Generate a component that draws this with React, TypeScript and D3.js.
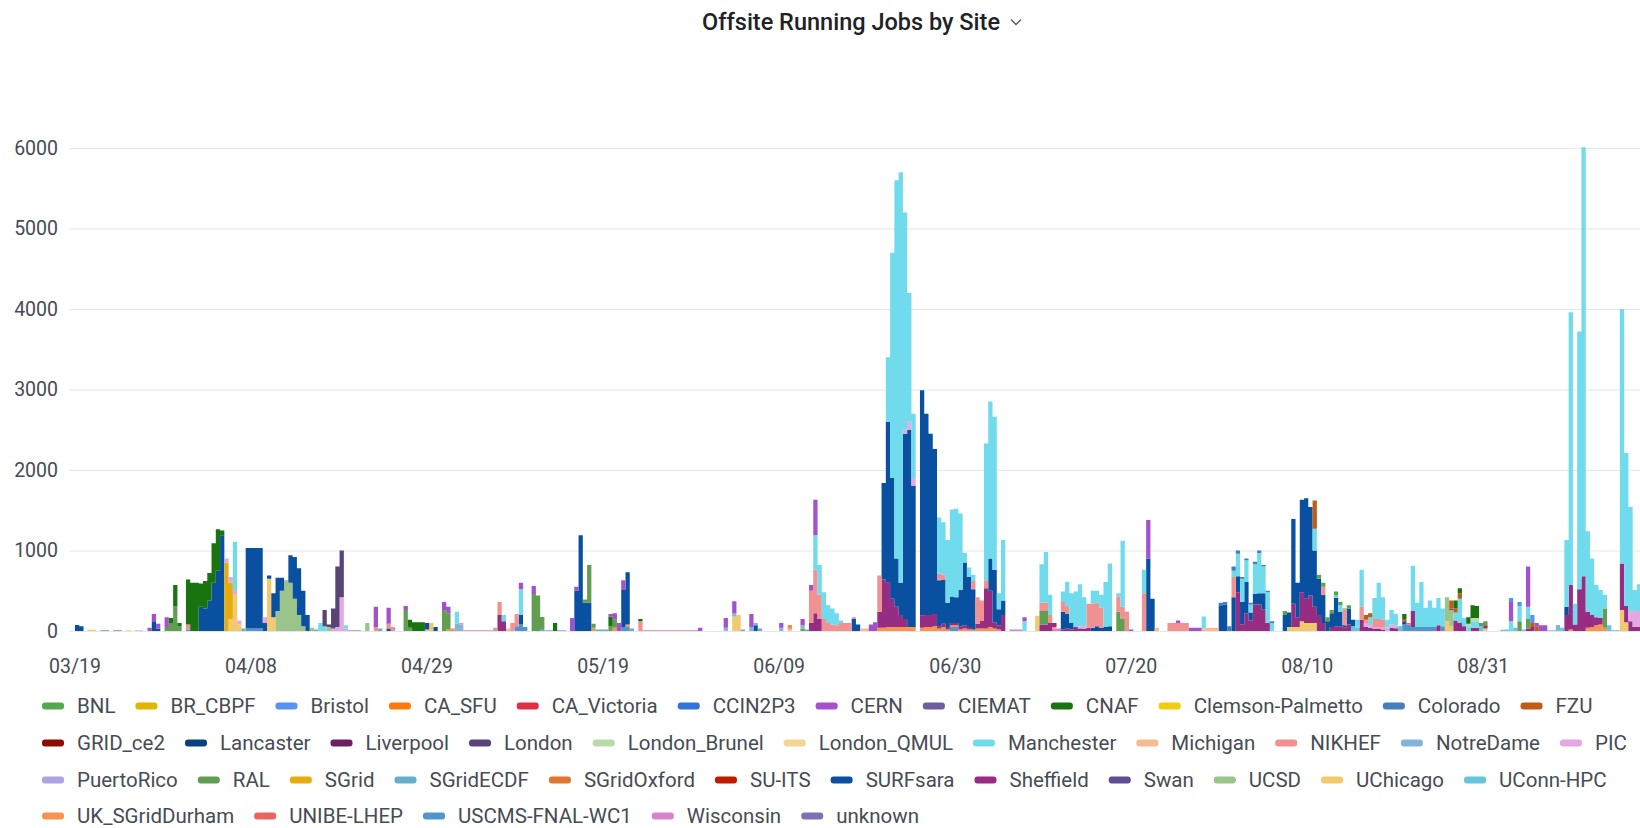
import React, { useEffect, useRef } from 'react';
import * as d3 from 'd3';

type Runs = [number, number[]][];

const title = 'Offsite Running Jobs by Site';

const sites = [
  'BNL', 'BR_CBPF', 'Bristol', 'CA_SFU', 'CA_Victoria', 'CCIN2P3', 'CERN', 'CIEMAT', 'CNAF',
  'Clemson-Palmetto', 'Colorado', 'FZU', 'GRID_ce2', 'Lancaster', 'Liverpool', 'London',
  'London_Brunel', 'London_QMUL', 'Manchester', 'Michigan', 'NIKHEF', 'NotreDame', 'PIC',
  'PuertoRico', 'RAL', 'SGrid', 'SGridECDF', 'SGridOxford', 'SU-ITS', 'SURFsara', 'Sheffield',
  'Swan', 'UCSD', 'UChicago', 'UConn-HPC', 'UK_SGridDurham', 'UNIBE-LHEP', 'USCMS-FNAL-WC1',
  'Wisconsin', 'unknown'
];

const siteColors = [
  '#56A64B', '#E0B400', '#5794F2', '#FF780A', '#E02F44', '#3274D9', '#A352CC', '#705DA0', '#19730E',
  '#F2CC0C', '#447EBC', '#C15C17', '#890F02', '#0A437C', '#6D1F62', '#584477',
  '#B7DBAB', '#F4D598', '#70DBED', '#F9BA8F', '#F29191', '#82B5D8', '#E5A8E2',
  '#AEA2E0', '#629E51', '#E5AC0E', '#64B0C8', '#E0752D', '#BF1B00', '#0A50A1', '#962D82',
  '#614D93', '#9AC48A', '#F2C96D', '#65C5DB', '#F9934E', '#EA6460', '#5195CE',
  '#D683CE', '#806EB7'
];

// running jobs per 12-hour bin, bin 0 = 03/19 00:00; [first bin, values...]
const manchester: Runs = [
  [37, [600]], [57, [100, 60]], [63, [40]], [89, [150]], [100, [80]], [104, [320]],
  [173, [430, 370, 330, 220, 200, 150, 30]],
  [190, [800, 2800, 4700, 5100, 2700, 1600, 800]],
  [202, [700, 650, 780, 1080, 1100, 950, 120, 120, 80]],
  [213, [1700, 1950, 1900, 200, 750]],
  [222, [120]], [226, [480, 630, 250]],
  [231, [130, 300, 370, 440, 520, 360, 0, 160, 150, 160, 560, 780]],
  [244, [40, 820]], [250, [290]], [264, [150]],
  [271, [80, 280, 290, 270, 100, 370, 500, 330, 380, 100]],
  [290, [270]], [295, [30, 80]],
  [300, [100, 460, 0, 100, 260, 450, 280, 100, 180, 150]],
  [313, [560, 300, 560, 240, 330, 240, 340, 220]],
  [323, [100, 300, 100, 60, 80, 80]],
  [336, [120, 0, 190, 0, 150]],
  [349, [830, 3390, 260, 3200, 5330, 1000, 700, 400, 350, 170]],
  [362, [3160, 1900, 1300, 260, 330]]
];

const surfsara: Runs = [
  [0, [75, 60]], [18, [120, 30]],
  [29, [300, 280, 380, 600, 750, 1190]],
  [40, [1000, 1000, 1000, 1000, 100, 40, 300, 410, 160, 0, 340, 520, 580, 440, 200]],
  [73, [30]], [82, [80, 0, 50]], [104, [120]],
  [117, [500, 1190, 350, 350]], [128, [460, 650]], [159, [70]], [182, [150, 80]],
  [189, [1200, 2000, 1500, 600, 400, 2300, 2450, 1750, 0, 2800, 2500, 2250, 2050, 570, 550, 300, 330, 320, 450, 780, 620, 500]],
  [214, [400, 650, 200, 180]],
  [231, [220, 180, 80]], [238, [40, 60, 40, 50, 60]],
  [251, [900, 400]], [268, [320, 330]],
  [271, [420, 200, 280, 390, 100, 130, 140, 200]],
  [283, [200, 180, 1050, 430, 1150, 1250, 1100, 700, 450, 350, 120, 170, 350, 180, 30, 200, 80]],
  [311, [40]], [349, [100]]
];

const nikhef: Runs = [
  [26, [60]], [70, [50]], [73, [60, 50]], [90, [20]], [98, [40, 160]], [102, [100, 150]],
  [132, [120]], [167, [30]],
  [172, [400, 540, 300, 150, 100, 80, 70, 100, 100, 100, 20]],
  [188, [450]], [202, [80, 60]], [210, [100, 330, 250, 100]],
  [226, [100, 100, 100]], [231, [120, 100]], [237, [300, 300, 290, 250]],
  [244, [190, 150, 240]], [250, [470]], [256, [100, 100, 100, 100, 100]],
  [271, [250]], [292, [100]], [297, [200]], [301, [160, 50, 0, 100, 100, 100]]
];

const sheffield: Runs = [
  [99, [200, 120]], [172, [100, 220, 150]],
  [188, [200, 600, 550, 350, 250, 150, 100]],
  [198, [150, 150, 150, 150, 30, 40, 30, 30, 30, 40, 40, 30]],
  [211, [60, 100, 500, 450, 80, 50, 200]],
  [226, [80, 80, 100, 50]], [231, [20, 30, 20, 50, 30, 30, 40]],
  [272, [480, 80, 220, 130, 330, 330, 270, 100]],
  [285, [290, 120, 360, 300, 340, 200, 200, 100, 0, 50, 60, 60, 40, 80]],
  [301, [140, 50, 40, 30, 30, 20, 0, 40, 35]],
  [313, [200]], [319, [70]], [322, [20, 130, 100, 60, 0, 40, 40, 0, 40]],
  [340, [30, 50]],
  [349, [200, 550, 80, 520, 680, 200, 150, 100, 80]],
  [362, [580, 200, 120, 50, 50]]
];

const cern: Runs = [
  [17, [40, 90, 60]], [21, [120]], [70, [250]], [73, [200]], [77, [50]], [86, [100, 80]],
  [104, [80]], [107, [100]], [116, [160, 50]], [125, [30, 80, 100, 120]], [146, [40]],
  [152, [120, 0, 150]], [158, [160]], [165, [60]], [170, [80]], [172, [70, 440]],
  [186, [80, 110]], [222, [50]], [247, [20]], [251, [480]], [258, [30]], [261, [40, 40, 40]],
  [336, [240]], [340, [500, 0, 40, 70, 70]]
];

const cnaf: Runs = [
  [22, [60, 260, 40]], [26, [560, 600, 600, 290, 340, 340, 490, 515, 60]],
  [78, [100, 110, 110, 110]], [112, [100]], [125, [120]], [132, [30]], [311, [60]],
  [323, [100, 60, 0, 80, 160, 150]]
];

const ral: Runs = [
  [21, [50, 100, 310, 60]], [77, [260, 40]], [86, [260, 200]], [107, [460, 440, 150]],
  [119, [40, 470, 50]], [125, [60, 100]], [170, [30]], [226, [170, 170]], [244, [240, 150]],
  [329, [40, 50]], [338, [120, 0, 120]], [358, [240]]
];

const ucsd: Runs = [
  [47, [250, 500, 630, 600, 400, 200, 60]], [55, [40]], [59, [50]], [68, [100]], [321, [300, 200]]
];

const sgrid: Runs = [[35, [850, 450]]];

const uchicago: Runs = [
  [3, [15, 15]], [12, [10]], [36, [150, 450, 80]], [45, [650, 170]], [82, [20, 100]],
  [154, [180, 200]], [167, [20]], [225, [190]], [284, [50, 50, 50, 120, 100, 100, 100]],
  [321, [120, 60]], [330, [30]], [362, [260, 110]]
];

const london: Runs = [[58, [200, 30, 250, 750, 580]]];

const pic: Runs = [
  [14, [10, 10]], [35, [50, 70, 60, 50]], [44, [70]], [60, [30, 50, 420, 30]],
  [194, [50, 100, 100]], [235, [30, 30]], [302, [40, 30, 20, 20, 20, 40, 40, 30]],
  [364, [120, 200, 200]]
];

const fzu: Runs = [[290, [350]], [302, [60, 50]], [311, [30]], [322, [100, 50, 70]], [341, [50, 60]]];

const notreDame: Runs = [
  [6, [12, 12]], [89, [90, 80]], [152, [40, 0, 40]], [158, [50, 30]],
  [165, [40]], [170, [40]], [347, [75]]
];

const ukDurham: Runs = [
  [87, [20, 30]], [121, [40]], [126, [40]], [129, [30]],
  [188, [40, 40, 50, 50, 50, 50, 50, 50, 50]],
  [198, [40, 50, 50, 60, 30, 50, 20, 20, 20, 20, 30, 20, 20, 30, 30, 30, 50, 30, 20]],
  [229, [20]], [350, [20]], [354, [40, 50, 70, 80, 40]]
];

const uscms: Runs = [
  [9, [10, 10]], [26, [20]], [40, [30, 30, 30, 30]], [103, [60, 80, 50]], [128, [50, 50]],
  [205, [50, 50]], [311, [80, 80, 50, 50, 50, 50, 50, 50, 0, 60]]
];

const wisconsin: Runs = [
  [91, [10, 10, 10, 10, 10, 10, 10]],
  [133, [10, 10, 10, 10, 10, 10, 10, 10, 10, 10, 10, 10, 10]],
  [219, [20, 20, 20]], [229, [30, 30]]
];

const michigan: Runs = [[101, [30]], [184, [30, 30]], [253, [40]], [264, [30, 40, 40, 40]]];

const sgridEcdf: Runs = [
  [39, [30]], [56, [20]], [64, [10, 10, 10]], [71, [30]], [109, [25, 10, 10]], [113, [10, 10]],
  [122, [20, 20, 20]], [130, [30]], [156, [20]], [160, [30]], [171, [20]]
];

const uconn: Runs = [
  [299, [60, 40]], [310, [60]], [329, [60]], [334, [15, 20, 0, 40, 0, 20]], [345, [10, 10]],
  [348, [40]], [359, [70, 10, 10]]
];

const bnl: Runs = [[283, [50]], [291, [50, 50, 50, 40, 50, 40, 10, 40]]];
const colorado: Runs = [[268, [30, 30, 60, 50, 40, 20, 20, 20, 30, 30, 20, 20, 20]]];
const londonBrunel: Runs = [[326, [30, 40, 40]]];
const sgridOxford: Runs = [[312, [20]]];
const caSfu: Runs = [[167, [20]]];
const bristol: Runs = [[336, [50, 0, 50, 0, 0, 100]]];

const siteRuns: Record<string, Runs> = {
  BNL: bnl, Bristol: bristol, CA_SFU: caSfu, CERN: cern, CNAF: cnaf, Colorado: colorado, FZU: fzu,
  London: london, London_Brunel: londonBrunel, Manchester: manchester, Michigan: michigan,
  NIKHEF: nikhef, NotreDame: notreDame, PIC: pic, RAL: ral, SGrid: sgrid, SGridECDF: sgridEcdf,
  SGridOxford: sgridOxford, SURFsara: surfsara, Sheffield: sheffield, UCSD: ucsd,
  UChicago: uchicago, 'UConn-HPC': uconn, UK_SGridDurham: ukDurham, 'USCMS-FNAL-WC1': uscms,
  Wisconsin: wisconsin
};

const yTicks = [0, 1000, 2000, 3000, 4000, 5000, 6000];
const xTickTimes = [
  '2021-03-19T00:00', '2021-04-08T15:00', '2021-04-29T06:00', '2021-05-19T21:00', '2021-06-09T12:00',
  '2021-06-30T03:00', '2021-07-20T18:00', '2021-08-10T09:00', '2021-08-31T00:00'
];
const xTickLabels = ['03/19', '04/08', '04/29', '05/19', '06/09', '06/30', '07/20', '08/10', '08/31'];

const W = 1640;
const H = 828;
const FONT = 'Roboto, "Noto Sans", sans-serif';
const N_BINS = 368;
const HOUR = 3600 * 1000;
const DAY = 24 * HOUR;
const T0 = Date.UTC(2021, 2, 19);

const App: React.FC = () => {
  const svgRef = useRef<SVGSVGElement>(null);

  useEffect(() => {
    if (!svgRef.current) return;
    const svg = d3.select(svgRef.current);
    svg.selectAll('*').remove();

    svg.append('rect').attr('width', W).attr('height', H).attr('fill', 'white');

    const margin = { top: 148, left: 69, bottom: 631 };

    // build table
    const rows: any[] = [];
    for (let b = 0; b <= N_BINS; b++) {
      rows.push({ t: new Date(T0 + b * 12 * HOUR) });
    }
    sites.forEach(s => {
      rows.forEach(r => { r[s] = 0; });
      (siteRuns[s] || []).forEach(([start, vals]) => {
        vals.forEach((v, i) => {
          if (start + i < N_BINS) rows[start + i][s] = v;
        });
      });
    });

    const xScale = d3.scaleUtc()
      .domain([new Date(T0 - 0.7 * DAY), new Date(T0 + 183.36 * DAY)])
      .range([margin.left, W]);

    const yScale = d3.scaleLinear()
      .domain([0, 6000])
      .range([margin.bottom, margin.top]);

    // title
    svg.append('text')
      .attr('x', 851)
      .attr('y', 22)
      .attr('dy', '0.35em')
      .attr('text-anchor', 'middle')
      .style('font-family', FONT)
      .style('font-size', '23.5px')
      .style('font-weight', 500)
      .attr('fill', '#202226')
      .text(title);
    svg.append('path')
      .attr('d', 'M1011,19.5 L1016,24.5 L1021,19.5')
      .attr('fill', 'none')
      .attr('stroke', '#5a5d66')
      .attr('stroke-width', 1.5);

    // grid lines
    svg.append('g')
      .selectAll('line')
      .data(yTicks)
      .join('line')
      .attr('x1', margin.left)
      .attr('x2', W)
      .attr('y1', d => yScale(d) + 0.5)
      .attr('y2', d => yScale(d) + 0.5)
      .attr('stroke', '#e6e6e6')
      .attr('stroke-width', 1);

    // y labels
    svg.append('g')
      .selectAll('text')
      .data(yTicks)
      .join('text')
      .attr('x', 58)
      .attr('y', d => yScale(d))
      .attr('dy', '0.35em')
      .attr('text-anchor', 'end')
      .style('font-family', FONT)
      .style('font-size', '19.5px')
      .attr('fill', '#464c54')
      .text(d => String(d));

    // x labels
    svg.append('g')
      .selectAll('text')
      .data(xTickTimes)
      .join('text')
      .attr('x', d => xScale(new Date(d + 'Z')))
      .attr('y', 666)
      .attr('dy', '0.35em')
      .attr('text-anchor', 'middle')
      .style('font-family', FONT)
      .style('font-size', '19.5px')
      .attr('fill', '#464c54')
      .text((d, i) => xTickLabels[i]);

    // stacked areas, first legend entry on top
    const keys = sites.slice().reverse();
    const stacked = d3.stack<any>().keys(keys)(rows);

    svg.append('clipPath')
      .attr('id', 'plot-clip')
      .append('rect')
      .attr('x', margin.left)
      .attr('y', 0)
      .attr('width', W - margin.left)
      .attr('height', margin.bottom + 1);

    const area = d3.area<any>()
      .x(d => xScale(d.data.t))
      .y0(d => yScale(d[0]))
      .y1(d => yScale(d[1]))
      .curve(d3.curveStepAfter);

    svg.append('g')
      .attr('clip-path', 'url(#plot-clip)')
      .selectAll('path')
      .data(stacked)
      .join('path')
      .attr('fill', d => siteColors[sites.indexOf(d.key)])
      .attr('d', d => area(d as any) || '');

    // legend
    const legend = svg.append('g');
    const rowY = [706, 743, 780, 816];
    let lx = 42;
    let row = 0;
    sites.forEach((s, i) => {
      const item = legend.append('g');
      const txt = item.append('text')
        .attr('dy', '0.35em')
        .style('font-family', FONT)
        .style('font-size', '20.5px')
        .attr('fill', '#464c54')
        .text(s);
      const tw = (txt.node() as SVGTextElement).getComputedTextLength();
      if (lx + 35 + tw > W + 10) {
        row += 1;
        lx = 42;
      }
      const cy = rowY[row];
      item.append('rect')
        .attr('x', lx)
        .attr('y', cy - 3.5)
        .attr('width', 22)
        .attr('height', 7)
        .attr('rx', 3)
        .attr('fill', siteColors[i]);
      txt.attr('x', lx + 35).attr('y', cy);
      lx += 35 + tw + 20;
    });
  }, []);

  return (
    <svg
      ref={svgRef}
      width={W}
      height={H}
      style={{ position: 'absolute', left: 0, top: 0, display: 'block' }}
    />
  );
};

export default App;
